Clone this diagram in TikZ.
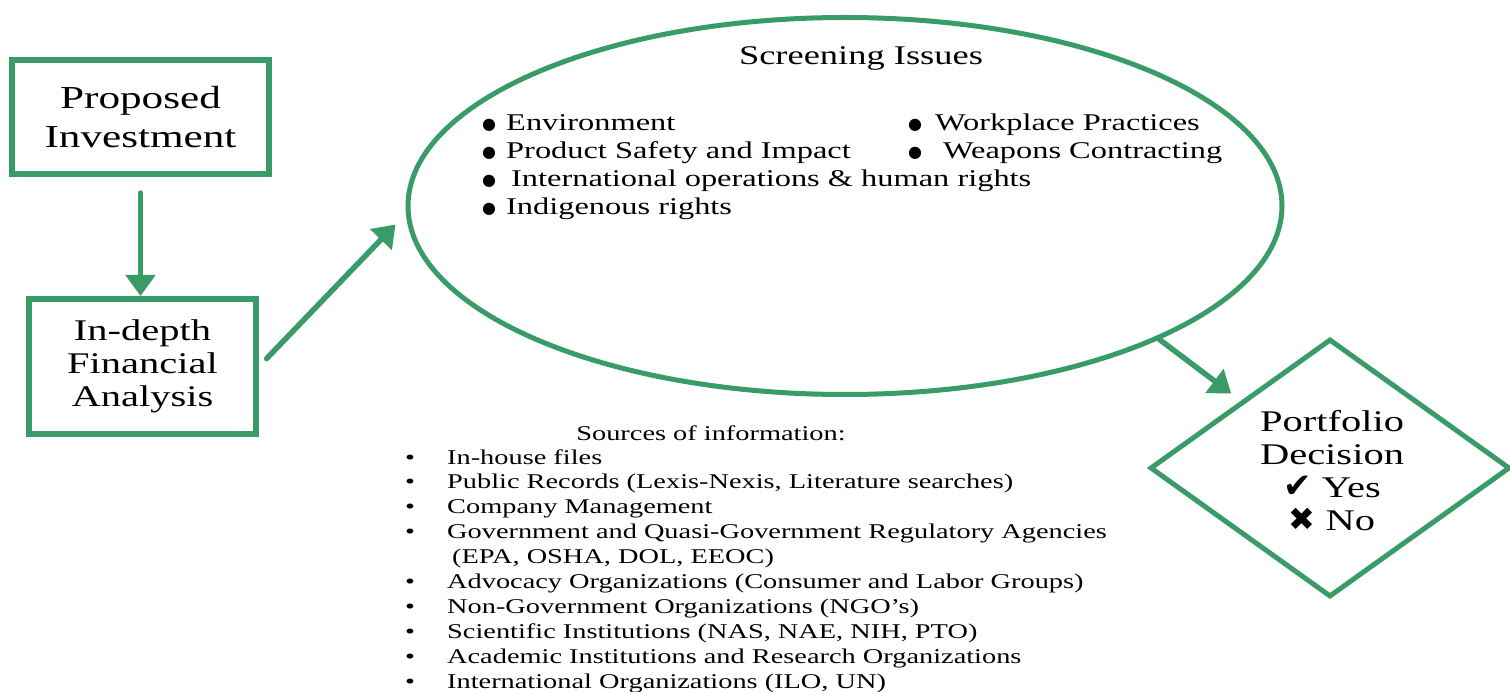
\documentclass[tikz,border=0pt]{standalone}
\usepackage{fontspec}
\setmainfont{Liberation Serif}[FakeStretch=1.35]
\newfontfamily\symfont{DejaVu Sans}
\usetikzlibrary{shapes.geometric,arrows.meta}
\definecolor{grn}{RGB}{56,155,104}
\newcommand{\bigdot}{\raisebox{1pt}{\symfont\fontsize{16}{16}\selectfont ●}}
\begin{document}
\begin{tikzpicture}[x=1pt,y=-1pt,
  box/.style={draw=grn, line width=6pt, inner sep=0pt, align=center},
  arr/.style={draw=grn, line width=5.5pt, line cap=round, -{Triangle[width=29pt,length=21pt]}},
  item/.style={anchor=base west, inner sep=0pt, font=\fontsize{24}{29}\selectfont},
  txt/.style={inner sep=0pt}]
\useasboundingbox (0,0) rectangle (1510,692);
% boxes
\node[box, minimum width=257pt, minimum height=114pt, font=\fontsize{32}{39}\selectfont] (inv) at (140.5,117) {Proposed\\Investment};
\node[box, minimum width=227pt, minimum height=135pt, font=\fontsize{30}{33}\selectfont] (fin) at (142.5,366.5) {In-depth\\Financial\\Analysis};
% ellipse
\node[draw=grn, line width=5pt, ellipse, minimum width=874pt, minimum height=377pt, inner sep=0pt] (ell) at (845,206) {};
\node[txt, anchor=base, font=\fontsize{27}{32}\selectfont] (title) at (861,65) {Screening Issues};
\node[item] (i1) at (482,131) {\makebox[24pt][l]{\bigdot}Environment};
\node[item] (i2) at (482,159) {\makebox[24pt][l]{\bigdot}Product Safety and Impact};
\node[item] (i3) at (482,187) {\makebox[29pt][l]{\bigdot}International operations \& human rights};
\node[item] (i4) at (482,215) {\makebox[24pt][l]{\bigdot}Indigenous rights};
\node[item] (i5) at (908,131) {\makebox[27pt][l]{\bigdot}Workplace Practices};
\node[item] (i6) at (908,159) {\makebox[35pt][l]{\bigdot}Weapons Contracting};
% diamond
\node[draw=grn, line width=5pt, diamond, minimum width=360pt, minimum height=258pt, inner sep=0pt] (dia) at (1330,468) {};
\node[txt, align=center, font=\fontsize{30}{33}\selectfont] (dtext) at (1332,471) {Portfolio\\Decision\\{\symfont\fontsize{34}{33}\selectfont ✔} Yes\\{\symfont\fontsize{32}{33}\selectfont ✖} No};
% sources
\node[txt, anchor=base, font=\fontsize{21}{25}\selectfont] (src) at (711,440) {Sources of information:};
\node[txt, anchor=base west, font=\fontsize{21}{24.9}\selectfont] (list) at (405,464) {%
\begin{tabular}[t]{@{}p{42pt}@{}l@{}}
\textbullet & In-house files\\
\textbullet & Public Records (Lexis-Nexis, Literature searches)\\
\textbullet & Company Management\\
\textbullet & Government and Quasi-Government Regulatory Agencies\\
 & \hspace{5pt}(EPA, OSHA, DOL, EEOC)\\
\textbullet & Advocacy Organizations (Consumer and Labor Groups)\\
\textbullet & Non-Government Organizations (NGO’s)\\
\textbullet & Scientific Institutions (NAS, NAE, NIH, PTO)\\
\textbullet & Academic Institutions and Research Organizations\\
\textbullet & International Organizations (ILO, UN)
\end{tabular}};
% arrows
\draw[arr, shorten <=16pt] (inv.south) -- (inv.south |- fin.north);
\draw[arr, shorten <=11pt, shorten >=15pt] (fin.east) -- (ell.181.5);
\draw[arr, shorten >=12pt] (ell.337.7) -- (dia);
\end{tikzpicture}
\end{document}
